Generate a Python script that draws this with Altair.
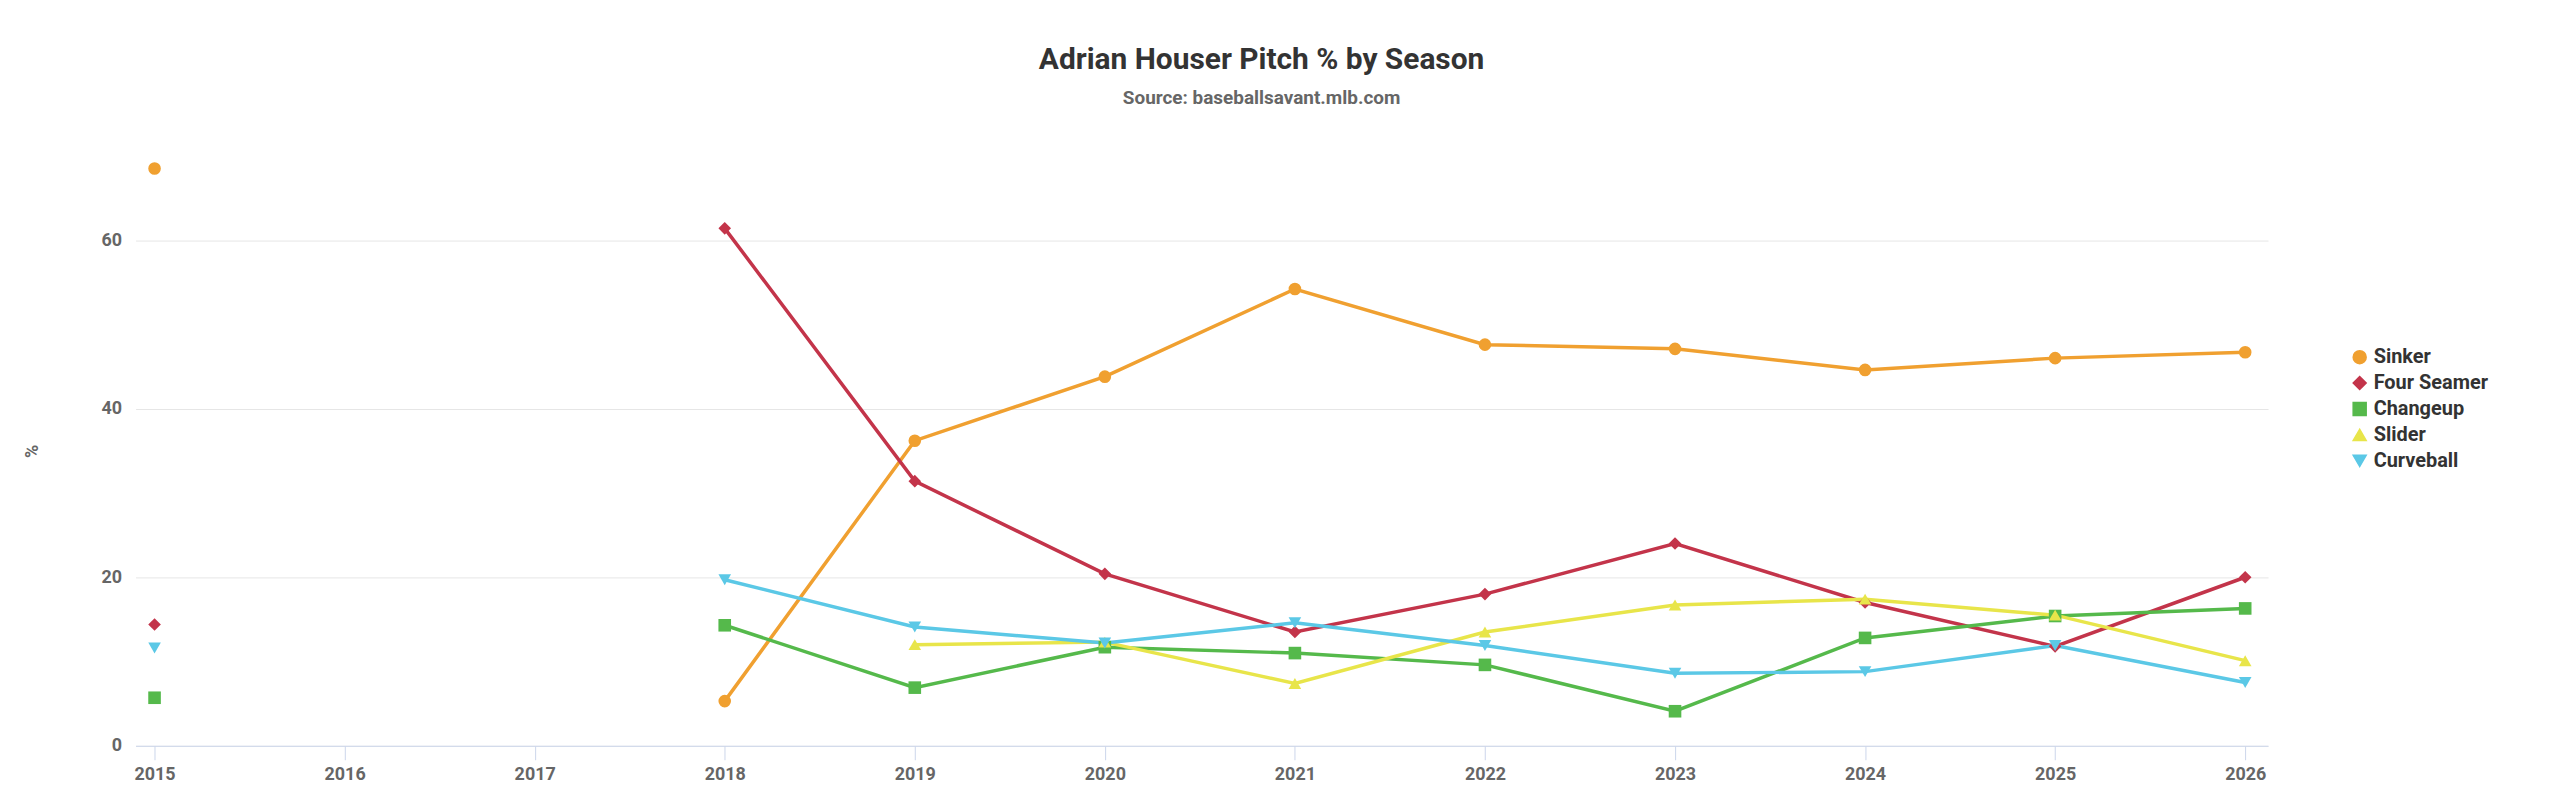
import altair as alt
import pandas as pd

pitches = ["Sinker", "Four Seamer", "Changeup", "Slider", "Curveball"]
colors = ["#F0A030", "#C3344A", "#55B94B", "#E8E54A", "#5BC8E6"]
shapes = ["circle", "diamond", "square", "triangle-up", "triangle-down"]

seasons = [2015, 2018, 2019, 2020, 2021, 2022, 2023, 2024, 2025, 2026]
sinker = [68.5, 5.3, 36.2, 43.8, 54.2, 47.6, 47.1, 44.6, 46.0, 46.7]
four_seamer = [14.4, 61.4, 31.4, 20.4, 13.5, 18.0, 24.0, 17.0, 11.8, 20.0]
changeup = [5.7, 14.3, 6.9, 11.7, 11.0, 9.6, 4.1, 12.8, 15.4, 16.3]
slider = [None, None, 12.0, 12.3, 7.4, 13.5, 16.7, 17.4, 15.5, 10.1]
curveball = [11.6, 19.7, 14.1, 12.2, 14.6, 11.9, 8.6, 8.8, 11.9, 7.5]

rows = []
for name, vals in zip(pitches, [sinker, four_seamer, changeup, slider, curveball]):
    for yr, v in zip(seasons, vals):
        if v is None:
            continue
        # 2016-2017 have no data, so the 2015 point stands alone
        rows.append({"season": yr, "pitch": name, "pct": v,
                     "seg": name + ("-a" if yr < 2018 else "-b")})
df = pd.DataFrame(rows)

font = "Roboto"
x = alt.X("season:Q", title=None,
          scale=alt.Scale(domain=[2014.9, 2026.12], nice=False, zero=False),
          axis=alt.Axis(values=list(range(2015, 2027)), format="d", grid=False,
                        domainColor="#ccd6eb", tickColor="#ccd6eb", tickSize=14,
                        labelFontSize=18, labelColor="#666", labelFontWeight="bold",
                        labelPadding=6, labelFont=font))
y = alt.Y("pct:Q", title="%",
          scale=alt.Scale(domain=[0, 70], nice=False),
          axis=alt.Axis(values=[0, 20, 40, 60], domain=False, ticks=False,
                        gridColor="#e6e6e6", labelFontSize=18, labelColor="#666",
                        labelFontWeight="bold", labelFont=font, labelPadding=14,
                        titleFontSize=18, titleColor="#666", titleAngle=-90,
                        titlePadding=60, titleFont=font))

legend = alt.Legend(title=None, orient="none", legendX=2222, legendY=192,
                    labelFontSize=20, labelFont=font, labelFontWeight="bold",
                    labelColor="#333", symbolSize=170, rowPadding=6)
color = alt.Color("pitch:N", scale=alt.Scale(domain=pitches, range=colors), legend=legend)
shape = alt.Shape("pitch:N", scale=alt.Scale(domain=pitches, range=shapes), legend=legend)

base = alt.Chart(df)
lines = base.mark_line(strokeWidth=3.5).encode(x=x, y=y, color=color, detail="seg:N")
points = base.mark_point(filled=True, size=160, opacity=1).encode(
    x=x, y=y, color=color, shape=shape)

chart = alt.layer(lines, points).properties(
    width=2140, height=592,
    autosize=alt.AutoSizeParams(type="none"),
    padding={"left": 128, "top": 147, "right": 285, "bottom": 50},
    title=alt.TitleParams("Adrian Houser Pitch % by Season",
                          subtitle="Source: baseballsavant.mlb.com",
                          font=font, fontSize=30, fontWeight="bold", color="#333",
                          subtitleFont=font, subtitleFontSize=19, subtitleFontWeight="bold",
                          subtitleColor="#666", subtitlePadding=14,
                          anchor="middle", offset=48, dx=60),
).configure_view(stroke=None)

chart.save("out.html", embed_options={"renderer": "svg", "actions": False})
